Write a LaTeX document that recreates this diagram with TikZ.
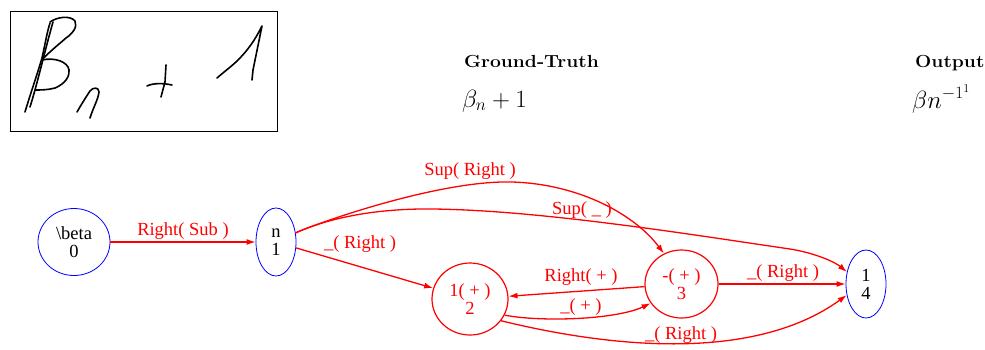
\documentclass[tikz,border=0pt]{standalone}
\usepackage{fontspec}
\newfontfamily\gvfont{Liberation Serif}
\usetikzlibrary{shapes.geometric,arrows.meta}
\begin{document}
\begin{tikzpicture}[x=1pt,y=-1pt,
  gv/.style={font=\gvfont\fontsize{18.5}{18}\selectfont},
  blueell/.style={ellipse,draw=blue,line width=0.8pt,inner sep=0pt,gv,align=center,text=black},
  redell/.style={ellipse,draw=red,line width=1.2pt,inner sep=0pt,gv,align=center,text=red},
  edge/.style={draw=red,line width=1.3pt,-{Latex[length=9pt,width=6pt]}},
  elabel/.style={gv,text=red,inner sep=0pt},
  ink/.style={line width=1.6pt,line cap=round,line join=round},
  toptext/.style={anchor=base west,inner sep=0pt},
  titletext/.style={toptext,font=\fontsize{17.5}{20}\selectfont\bfseries},
  mathtext/.style={toptext,font=\fontsize{25}{30}\selectfont}
]
\useasboundingbox (0,0) rectangle (985,349);
% handwritten box
\draw[line width=0.9pt] (10,11) rectangle (277,131);
% beta
\draw[ink] (25,112) .. controls (31,92) and (37,75) .. (42,58) .. controls (45,45) and (47,32) .. (50,23);
\draw[ink] (30,107) .. controls (37,85) and (45,50) .. (53,22);
\draw[ink] (50,22) .. controls (57,17) and (70,15) .. (75,21) .. controls (78,27) and (72,34) .. (66,38) .. controls (58,45) and (48,53) .. (42,60);
\draw[ink] (42,60) .. controls (55,57) and (68,62) .. (69,70) .. controls (70,80) and (60,86) .. (55,88) .. controls (48,90) and (40,90) .. (35,90);
% n
\draw[ink] (77,112) .. controls (81,105) and (86,97) .. (90,91) .. controls (93,87) and (99,87) .. (99,92) .. controls (98,100) and (93,108) .. (90,118);
% plus
\draw[ink] (147,86) .. controls (153,83) and (163,83) .. (172,85);
\draw[ink] (166,65) -- (165,82) -- (161,97);
% one
\draw[ink] (217,78) .. controls (225,71) and (232,66) .. (238,60) .. controls (248,50) and (255,40) .. (262,26) -- (253,70) -- (252,80);
% titles
\node[titletext] (gt) at (464,67) {\scalebox{1.1}[1]{Ground-Truth}};
\node[mathtext] (gtm) at (462,107) {$\beta_n+1$};
\node[titletext] (out) at (915,67) {\scalebox{1.1}[1]{Output}};
\node[mathtext] (outm) at (912,108) {$\beta n^{-1^1}$};
% graph nodes
\node[blueell,minimum width=72pt,minimum height=67pt] (n0) at (74,242) {\textbackslash beta\\0};
\node[blueell,minimum width=40pt,minimum height=68pt] (n1) at (276,242) {n\\1};
\node[redell,minimum width=76pt,minimum height=72pt] (n2) at (470,299) {1( + )\\2};
\node[redell,minimum width=73pt,minimum height=68pt] (n3) at (681.5,284) {-( + )\\3};
\node[blueell,minimum width=40pt,minimum height=68pt] (n4) at (866,284) {1\\4};
% edges
\draw[edge] (n0) -- (n1);
\draw[edge] (n1) -- (n2);
\draw[edge] (n1.25) .. controls (320,222) and (440,180) .. (512,182) .. controls (580,184) and (635,215) .. (n3.120);
\draw[edge] (n1.25) .. controls (320,222) and (360,210) .. (420,209) .. controls (530,208) and (700,236) .. (790,249) .. controls (815,253) and (835,262) .. (n4.148);
\draw[edge] (n3) -- (n2);
\draw[edge] (n2.-25) .. controls (540,322) and (615,320) .. (n3.-148);
\draw[edge] (n3) -- (n4);
\draw[edge] (n2.-35) .. controls (600,345) and (750,365) .. (n4.-150);
% edge labels
\node[elabel] (l01) at (183,231) {Right( Sub )};
\node[elabel] (l12) at (360,244) {\_( Right )};
\node[elabel] (l13) at (470,171) {Sup( Right )};
\node[elabel] (l14) at (582,210) {Sup( \_ )};
\node[elabel] (l32) at (581,277) {Right( + )};
\node[elabel] (l23) at (581,307) {\_( + )};
\node[elabel] (l34) at (783,273) {\_( Right )};
\node[elabel] (l24) at (681,335) {\_( Right )};
\end{tikzpicture}
\end{document}
